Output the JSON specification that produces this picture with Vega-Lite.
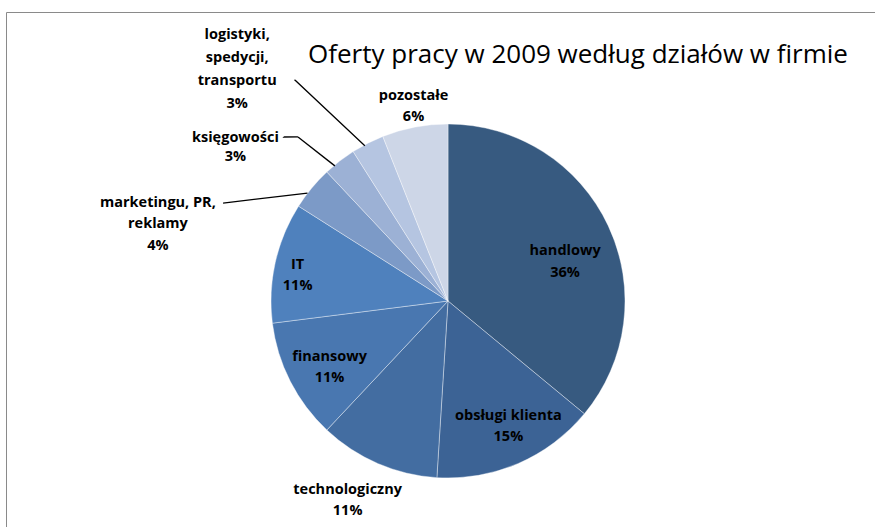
{
  "$schema": "https://vega.github.io/schema/vega-lite/v6.json",
  "width": 884,
  "height": 578,
  "autosize": {"type": "none"},
  "padding": {"left": 6, "top": 12, "right": -15, "bottom": -63},
  "background": "white",
  "view": {"stroke": "#8a8a8a", "strokeWidth": 1},
  "title": {
    "text": "Oferty pracy w 2009 według działów w firmie",
    "font": "Open Sans",
    "fontSize": 26,
    "fontWeight": "normal",
    "color": "#000000",
    "anchor": "middle",
    "frame": "group",
    "offset": 0,
    "baseline": "alphabetic",
    "dx": 130,
    "dy": 80
  },
  "data": {
    "values": [
      {"dzial": "handlowy", "etykieta": "handlowy\n36%", "udzial": 36, "kolejnosc": 1},
      {"dzial": "obsługi klienta", "etykieta": "obsługi klienta\n15%", "udzial": 15, "kolejnosc": 2},
      {"dzial": "technologiczny", "etykieta": "technologiczny\n11%", "udzial": 11, "kolejnosc": 3},
      {"dzial": "finansowy", "etykieta": "finansowy\n11%", "udzial": 11, "kolejnosc": 4},
      {"dzial": "IT", "etykieta": "IT\n11%", "udzial": 11, "kolejnosc": 5},
      {"dzial": "marketingu, PR, reklamy", "etykieta": "marketingu, PR,\nreklamy\n4%", "udzial": 4, "kolejnosc": 6},
      {"dzial": "księgowości", "etykieta": "księgowości\n3%", "udzial": 3, "kolejnosc": 7},
      {"dzial": "logistyki, spedycji, transportu", "etykieta": "logistyki,\nspedycji,\ntransportu\n3%", "udzial": 3, "kolejnosc": 8},
      {"dzial": "pozostałe", "etykieta": "pozostałe\n6%", "udzial": 6, "kolejnosc": 9}
    ]
  },
  "encoding": {
    "theta": {"field": "udzial", "type": "quantitative", "stack": true},
    "order": {"field": "kolejnosc", "type": "quantitative", "sort": "ascending"}
  },
  "layer": [
    {
      "mark": {"type": "arc", "outerRadius": 177, "stroke": "#ffffff", "strokeWidth": 0.7, "strokeOpacity": 0.55},
      "encoding": {
        "color": {
          "field": "dzial",
          "type": "nominal",
          "legend": null,
          "scale": {
            "domain": ["handlowy", "obsługi klienta", "technologiczny", "finansowy", "IT", "marketingu, PR, reklamy", "księgowości", "logistyki, spedycji, transportu", "pozostałe"],
            "range": ["#375A80", "#3C6395", "#436DA1", "#4977B0", "#4F81BD", "#7C9AC7", "#9CB1D5", "#B5C5E1", "#CDD6E7"]
          }
        }
      }
    },
    {
      "mark": {"type": "arc", "outerRadius": 245.4, "innerRadius": 176.8, "padAngle": 1.357, "thetaOffset": 4.2385, "fill": "transparent", "strokeWidth": 1.3, "strokeCap": "butt", "strokeDash": [0, 121, 85, 1000]},
      "encoding": {"stroke": {"condition": {"test": "datum.dzial === 'handlowy'", "value": "#000000"}, "value": "transparent"}}
    },
    {
      "mark": {"type": "arc", "outerRadius": 222.3, "innerRadius": 176.1, "padAngle": 1.5338, "thetaOffset": 4.4553, "fill": "transparent", "strokeWidth": 1.3, "strokeCap": "butt", "strokeDash": [0, 19.6, 46.8, 1000]},
      "encoding": {"stroke": {"condition": {"test": "datum.dzial === 'handlowy'", "value": "#000000"}, "value": "transparent"}}
    },
    {
      "mark": {"type": "arc", "outerRadius": 231.9, "innerRadius": 222.3, "padAngle": 1.3861, "thetaOffset": 4.4113, "fill": "transparent", "strokeWidth": 1.3, "strokeCap": "butt", "strokeDash": [0, 20.6, 14, 1000]},
      "encoding": {"stroke": {"condition": {"test": "datum.dzial === 'handlowy'", "value": "#000000"}, "value": "transparent"}}
    },
    {
      "mark": {"type": "arc", "outerRadius": 268.8, "innerRadius": 175.8, "padAngle": 1.584, "thetaOffset": 4.6606, "fill": "transparent", "strokeWidth": 1.3, "strokeCap": "butt", "strokeDash": [0, 61.3, 96, 1000]},
      "encoding": {"stroke": {"condition": {"test": "datum.dzial === 'handlowy'", "value": "#000000"}, "value": "transparent"}}
    },
    {
      "mark": {"type": "text", "radius": 125, "dx": 4, "dy": 3, "font": "Open Sans", "fontSize": 14.5, "fontWeight": "bold", "lineBreak": "\n", "lineHeight": 22, "align": "center", "baseline": "middle", "color": "#000000"},
      "encoding": {"text": {"condition": {"test": "datum.dzial === 'handlowy'", "field": "etykieta"}, "value": ""}}
    },
    {
      "mark": {"type": "text", "radius": 137, "dx": 6, "dy": -11, "font": "Open Sans", "fontSize": 14.5, "fontWeight": "bold", "lineBreak": "\n", "lineHeight": 21, "align": "center", "baseline": "middle", "color": "#000000"},
      "encoding": {"text": {"condition": {"test": "datum.dzial === 'obsługi klienta'", "field": "etykieta"}, "value": ""}}
    },
    {
      "mark": {"type": "text", "radius": 220, "dx": -13, "dy": -13, "font": "Open Sans", "fontSize": 14.5, "fontWeight": "bold", "lineBreak": "\n", "lineHeight": 21, "align": "center", "baseline": "middle", "color": "#000000"},
      "encoding": {"text": {"condition": {"test": "datum.dzial === 'technologiczny'", "field": "etykieta"}, "value": ""}}
    },
    {
      "mark": {"type": "text", "radius": 134, "dx": 1, "dy": -5, "font": "Open Sans", "fontSize": 14.5, "fontWeight": "bold", "lineBreak": "\n", "lineHeight": 21, "align": "center", "baseline": "middle", "color": "#000000"},
      "encoding": {"text": {"condition": {"test": "datum.dzial === 'finansowy'", "field": "etykieta"}, "value": ""}}
    },
    {
      "mark": {"type": "text", "radius": 152, "dx": -2, "dy": -3, "font": "Open Sans", "fontSize": 14.5, "fontWeight": "bold", "lineBreak": "\n", "lineHeight": 21, "align": "center", "baseline": "middle", "color": "#000000"},
      "encoding": {"text": {"condition": {"test": "datum.dzial === 'IT'", "field": "etykieta"}, "value": ""}}
    },
    {
      "mark": {"type": "text", "radius": 200, "dx": -136, "dy": 29, "font": "Open Sans", "fontSize": 14.5, "fontWeight": "bold", "lineBreak": "\n", "lineHeight": 21.5, "align": "center", "baseline": "middle", "color": "#000000"},
      "encoding": {"text": {"condition": {"test": "datum.dzial === 'marketingu, PR, reklamy'", "field": "etykieta"}, "value": ""}}
    },
    {
      "mark": {"type": "text", "radius": 200, "dx": -90, "dy": -5, "font": "Open Sans", "fontSize": 14.5, "fontWeight": "bold", "lineBreak": "\n", "lineHeight": 19, "align": "center", "baseline": "middle", "color": "#000000"},
      "encoding": {"text": {"condition": {"test": "datum.dzial === 'księgowości'", "field": "etykieta"}, "value": ""}}
    },
    {
      "mark": {"type": "text", "radius": 200, "dx": -120, "dy": -88, "font": "Open Sans", "fontSize": 14.5, "fontWeight": "bold", "lineBreak": "\n", "lineHeight": 23, "align": "center", "baseline": "middle", "color": "#000000"},
      "encoding": {"text": {"condition": {"test": "datum.dzial === 'logistyki, spedycji, transportu'", "field": "etykieta"}, "value": ""}}
    },
    {
      "mark": {"type": "text", "radius": 200, "dx": 3, "dy": -9, "font": "Open Sans", "fontSize": 14.5, "fontWeight": "bold", "lineBreak": "\n", "lineHeight": 21, "align": "center", "baseline": "middle", "color": "#000000"},
      "encoding": {"text": {"condition": {"test": "datum.dzial === 'pozostałe'", "field": "etykieta"}, "value": ""}}
    }
  ]
}
